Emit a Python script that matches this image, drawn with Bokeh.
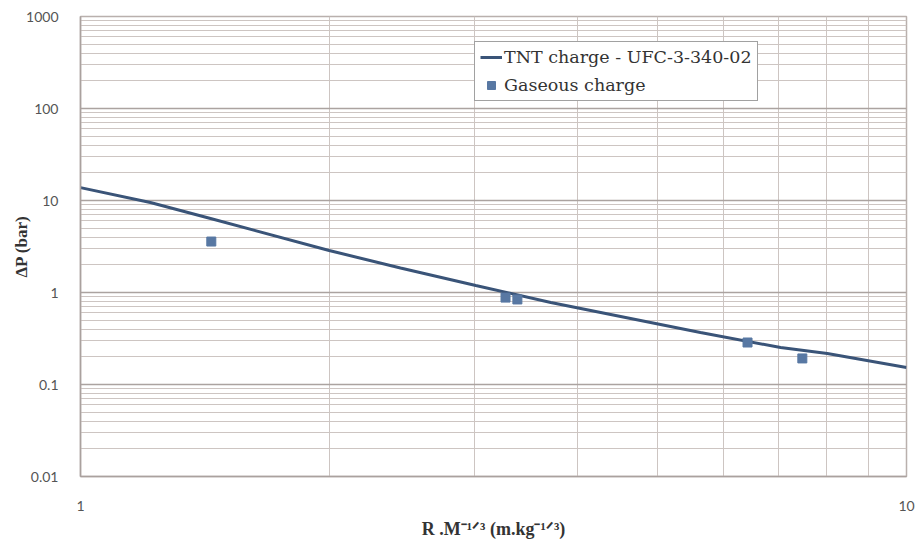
from bokeh.plotting import figure
from bokeh.models import FixedTicker, Legend, LegendItem
from bokeh.embed import file_html
from bokeh.resources import INLINE

# --- data ---
tnt_x = [1.0, 1.215, 1.437, 2.0, 2.44, 3.01, 3.71, 5.63, 7.04, 8.02, 10.0]
tnt_y = [13.8, 9.5, 6.37, 2.86, 1.85, 1.19, 0.78, 0.367, 0.252, 0.217, 0.153]
gas_x = [1.44, 3.27, 3.38, 6.42, 7.48]
gas_y = [3.58, 0.88, 0.84, 0.286, 0.192]
x_ticks = [1, 10]
y_ticks = [0.01, 0.1, 1, 10, 100, 1000]
y_tick_labels = ["0.01", "0.1", "1", "10", "100", "1000"]
x_tick_labels = ["1", "10"]

p = figure(width=918, height=541, x_axis_type="log", y_axis_type="log",
           x_range=(1, 10), y_range=(0.01, 1000),
           output_backend="svg", toolbar_location=None,
           min_border_left=80, min_border_right=12,
           min_border_top=16, min_border_bottom=65)

x_minor = [m * 10 ** k for k in range(0, 1) for m in range(2, 10)]
y_minor = [m * 10.0 ** k for k in range(-2, 3) for m in range(2, 10)]
p.xaxis.ticker = FixedTicker(ticks=x_ticks, minor_ticks=x_minor)
p.yaxis.ticker = FixedTicker(ticks=y_ticks, minor_ticks=y_minor)
p.xaxis.major_label_overrides = {t: l for t, l in zip(x_ticks, x_tick_labels)}
p.yaxis.major_label_overrides = {t: l for t, l in zip(y_ticks, y_tick_labels)}

grid_col = "#cdc5c2"
for g in (p.xgrid, p.ygrid):
    g.grid_line_color = "#aba3a0"
    g.grid_line_width = 1.5
    g.minor_grid_line_color = grid_col
    g.minor_grid_line_width = 1

for ax in (p.xaxis, p.yaxis):
    ax.axis_line_color = "#aaa19e"
    ax.axis_line_width = 1.5
    ax.major_tick_line_color = None
    ax.minor_tick_line_color = None
    ax.major_label_text_font = "Lato"
    ax.major_label_text_font_size = "14px"
    ax.major_label_text_color = "#555555"
    ax.axis_label_text_font = "Liberation Serif"
    ax.axis_label_text_font_size = "17px"
    ax.axis_label_text_font_style = "bold"
    ax.axis_label_text_color = "#333333"
p.xaxis.axis_label_text_font_size = "18px"
p.yaxis.major_label_standoff = 16
p.xaxis.major_label_standoff = 18
p.yaxis.axis_label = "ΔP (bar)"
p.yaxis.axis_label_standoff = -8
p.xaxis.axis_label = "R .M⁻¹ᐟ³ (m.kg⁻¹ᐟ³)"
p.xaxis.axis_label_standoff = 5
p.outline_line_color = "#b9b0ad"
p.outline_line_width = 1.5

line_col = "#3a5478"
mark_col = "#5878a3"
r_line = p.line(tnt_x, tnt_y, line_color=line_col, line_width=3)
r_pts = p.scatter(gas_x, gas_y, marker="square", size=9, fill_color=mark_col, line_color=mark_col)

legend = Legend(items=[LegendItem(label="TNT charge - UFC-3-340-02", renderers=[r_line]),
                       LegendItem(label="Gaseous charge", renderers=[r_pts])],
                location=(394, 375))
legend.border_line_color = "#444444"
legend.border_line_width = 1
legend.background_fill_color = "white"
legend.background_fill_alpha = 1
legend.label_text_font = "DejaVu Serif"
legend.label_text_font_size = "17.5px"
legend.label_text_color = "#333333"
legend.glyph_width = 22
legend.label_standoff = 2
legend.padding = 5
legend.spacing = 8
legend.margin = 0
p.add_layout(legend, "center")

open("out.html", "w").write(file_html(p, INLINE))
